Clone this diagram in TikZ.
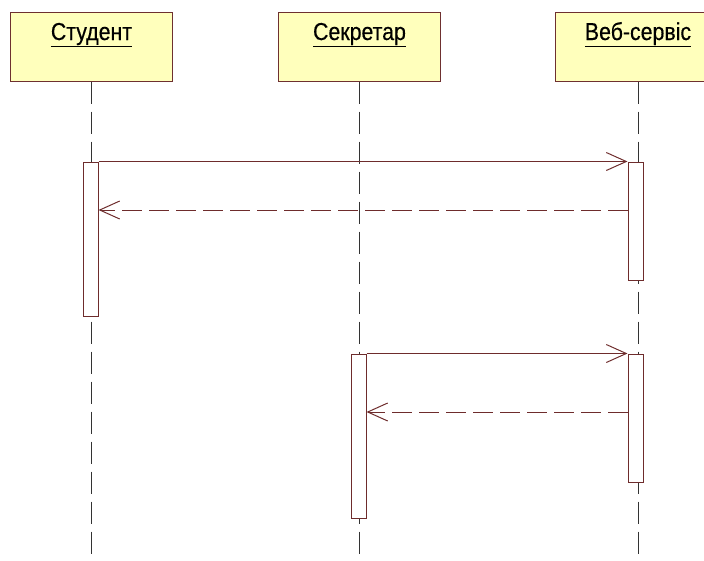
\documentclass[tikz,border=0pt]{standalone}
\usepackage{fontspec}
\setmainfont{Liberation Sans}
\newfontfamily\titlefont[FakeStretch=0.87,FakeBold=0.4]{Liberation Sans}
\usetikzlibrary{arrows.meta}
\definecolor{boxfill}{HTML}{FFFFBC}
\definecolor{boxline}{HTML}{6E3030}
\definecolor{msg}{HTML}{6E2C2C}
\definecolor{lifec}{HTML}{333333}
\begin{document}
\begin{tikzpicture}[x=1pt,y=-1pt,
  obj/.style={draw=boxline,fill=boxfill,line width=1pt,minimum width=162pt,minimum height=69pt,inner sep=0pt},
  title/.style={anchor=base,font=\titlefont\fontsize{24.5}{26}\selectfont,inner sep=0pt},
  life/.style={draw=lifec,line width=1pt,dash pattern=on 22pt off 8pt},
  act/.style={draw=msg,fill=white,line width=1pt,minimum width=15pt,inner sep=0pt},
  call/.style={draw=msg,line width=1pt,-{Straight Barb[length=20pt,width=18pt,line width=1pt]}},
  ret/.style={draw=msg,line width=1pt,dash pattern=on 20pt off 7pt,-{Straight Barb[length=20pt,width=18pt,line width=1pt]}}]
\useasboundingbox (0,0) rectangle (704,560);
\coordinate (bottom) at (0,566);
% objects
\node[obj] (stud) at (91,46.5) {};
\node[obj] (sekr) at (359.5,46.5) {};
\node[obj,minimum width=166pt] (web) at (638,46.5) {};
\node[title] (studt) at (91.5,40) {\underline{Студент}};
\node[title] (sekrt) at (359.5,40) {\underline{Секретар}};
\node[title] (webt) at (638,40) {\underline{Веб-сервіс}};
% lifelines
\draw[life] (stud.south) -- (stud.south |- bottom);
\draw[life] (sekr.south) -- (sekr.south |- bottom);
\draw[life] (web.south) -- (web.south |- bottom);
% activations
\node[act,minimum height=154pt] (sa) at (90.5,239) {};
\node[act,minimum height=118pt] (w1) at (635.5,221) {};
\node[act,minimum height=164pt] (ka) at (358.5,436) {};
\node[act,minimum height=128pt] (w2) at (635.5,418) {};
% messages
\coordinate (r1) at (628,210);
\coordinate (r2) at (628,412);
\draw[call] (sa.north east) -- (w1.north west);
\draw[ret] (w1.west |- r1) -- (sa.east |- r1);
\draw[call] (ka.north east) -- (w2.north west);
\draw[ret] (w2.west |- r2) -- (ka.east |- r2);
\end{tikzpicture}
\end{document}
